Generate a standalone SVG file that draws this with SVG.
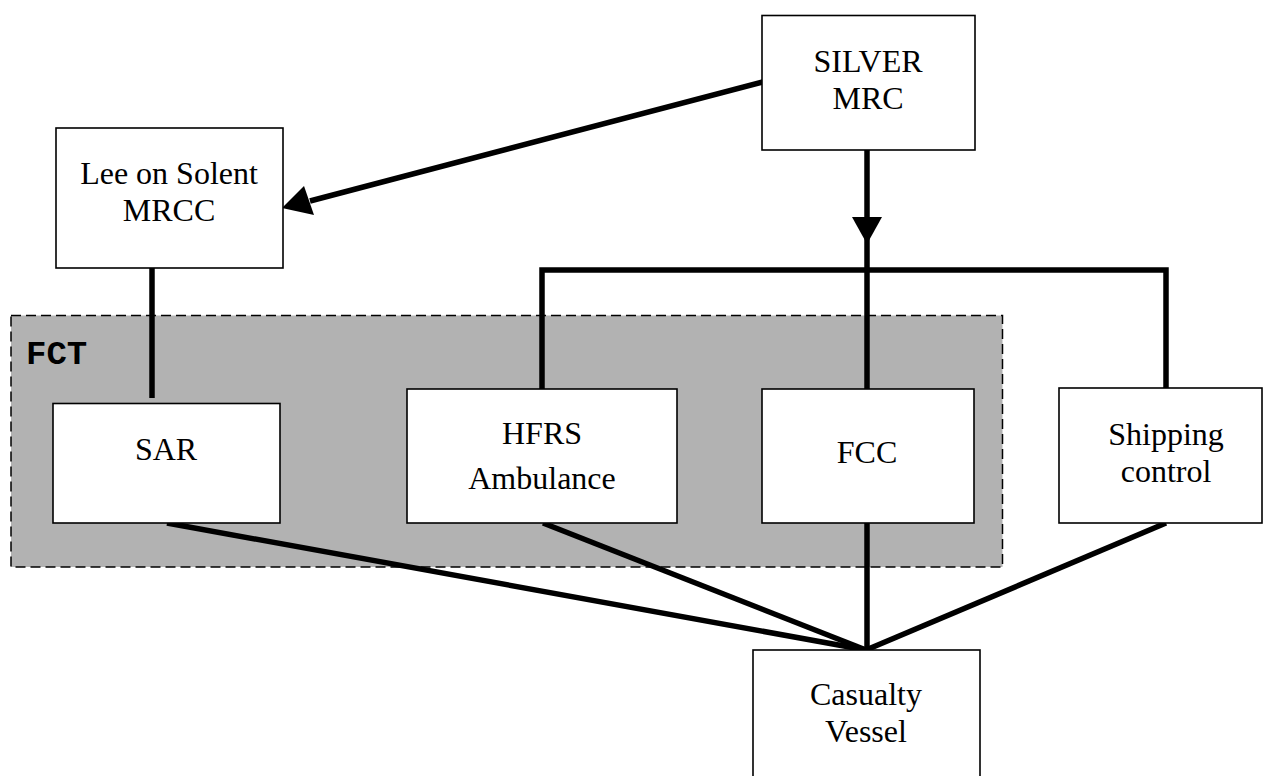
<svg xmlns="http://www.w3.org/2000/svg" width="1263" height="776" viewBox="0 0 1263 776">
  <style>
    .box { fill: #ffffff; stroke: #000000; stroke-width: 1.6; }
    .lbl { font-family: "Liberation Serif", "Times New Roman", serif; font-size: 32px; fill: #000000; text-anchor: middle; }
    .conn { stroke: #000000; stroke-width: 5.5; fill: none; }
    .head { fill: #000000; stroke: none; }
  </style>

  <g id="fct">
    <rect x="11" y="315.5" width="991.5" height="251.5" fill="#b2b2b2" stroke="#000000" stroke-width="1.5" stroke-dasharray="10,5"/>
    <text x="26" y="364" font-family="Liberation Mono, 'Courier New', monospace" font-weight="bold" font-size="34px" fill="#000000">FCT</text>
  </g>

  <g id="connectors">
    <line class="conn" x1="774" y1="79" x2="310" y2="201"/>
    <polygon class="head" points="282,208 304,186 314,215"/>
    <line class="conn" x1="867" y1="150" x2="867" y2="650"/>
    <polygon class="head" points="852,217 882,217 867,244"/>
    <polyline class="conn" points="542,389 542,270 1166,270 1166,388"/>
    <line class="conn" x1="152" y1="268" x2="152" y2="398"/>
    <line class="conn" x1="167" y1="523" x2="866" y2="650"/>
    <line class="conn" x1="543" y1="523" x2="866" y2="650"/>
    <line class="conn" x1="1166" y1="523" x2="866" y2="650"/>
  </g>

  <g id="silver-mrc">
    <rect class="box" x="762" y="15.5" width="213" height="134.5"/>
    <text class="lbl" x="868" y="72">SILVER</text>
    <text class="lbl" x="868" y="109">MRC</text>
  </g>

  <g id="lee-mrcc">
    <rect class="box" x="56" y="128" width="227" height="140"/>
    <text class="lbl" x="169" y="184">Lee on Solent</text>
    <text class="lbl" x="169" y="221">MRCC</text>
  </g>

  <g id="sar">
    <rect class="box" x="53" y="403.5" width="227" height="119.5"/>
    <text class="lbl" x="166" y="460">SAR</text>
  </g>

  <g id="hfrs">
    <rect class="box" x="407" y="389" width="270" height="134"/>
    <text class="lbl" x="542" y="444">HFRS</text>
    <text class="lbl" x="542" y="489">Ambulance</text>
  </g>

  <g id="fcc">
    <rect class="box" x="762" y="389" width="212" height="134"/>
    <text class="lbl" x="867" y="463">FCC</text>
  </g>

  <g id="shipping">
    <rect class="box" x="1059" y="388" width="203" height="135"/>
    <text class="lbl" x="1166" y="445">Shipping</text>
    <text class="lbl" x="1166" y="482">control</text>
  </g>

  <g id="casualty">
    <rect class="box" x="753" y="650" width="227" height="140"/>
    <text class="lbl" x="866" y="705">Casualty</text>
    <text class="lbl" x="866" y="742">Vessel</text>
  </g>
</svg>
